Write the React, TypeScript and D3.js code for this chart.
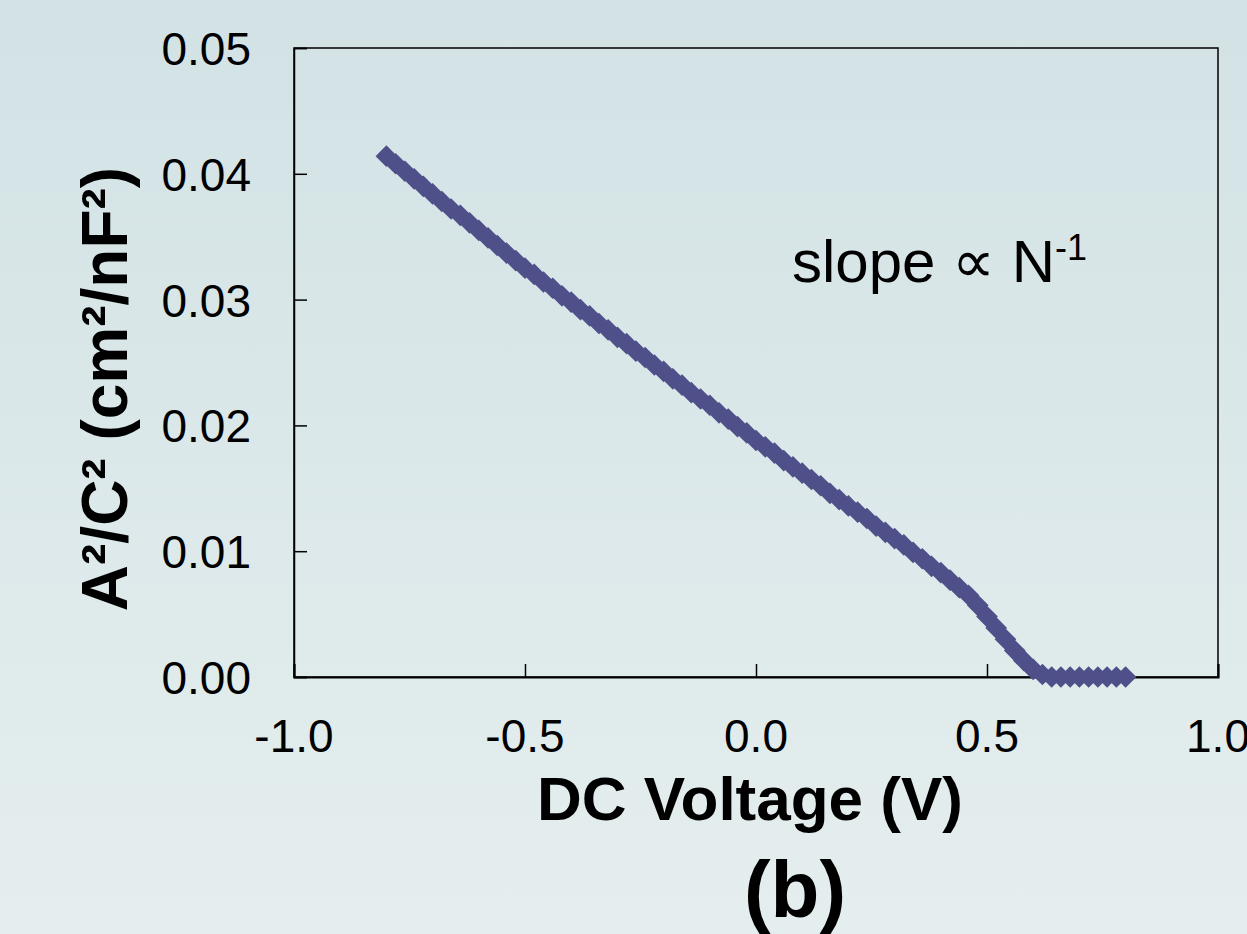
import React, { useEffect, useRef } from "react";
import * as d3 from "d3";

// DC bias sweep (V) and measured A^2/C^2 (cm^2/nF^2)
const voltages: number[] = [
  -0.8, -0.78, -0.76, -0.74, -0.72, -0.7, -0.68, -0.66, -0.64, -0.62,
  -0.6, -0.58, -0.56, -0.54, -0.52, -0.5, -0.48, -0.46, -0.44, -0.42,
  -0.4, -0.38, -0.36, -0.34, -0.32, -0.3, -0.28, -0.26, -0.24, -0.22,
  -0.2, -0.18, -0.16, -0.14, -0.12, -0.1, -0.08, -0.06, -0.04, -0.02,
  0.0, 0.02, 0.04, 0.06, 0.08, 0.1, 0.12, 0.14, 0.16, 0.18,
  0.2, 0.22, 0.24, 0.26, 0.28, 0.3, 0.32, 0.34, 0.36, 0.38,
  0.4, 0.42, 0.44, 0.46, 0.48, 0.5, 0.52, 0.54, 0.56, 0.58,
  0.6, 0.62, 0.64, 0.66, 0.68, 0.7, 0.72, 0.74, 0.76, 0.78, 0.8,
];

const invC2: number[] = [
  0.0414, 0.0408, 0.0402, 0.0396, 0.039, 0.0384, 0.0378, 0.0372, 0.0367, 0.0361,
  0.0355, 0.0349, 0.0343, 0.0337, 0.0331, 0.0325, 0.032, 0.0314, 0.0309, 0.0303,
  0.0298, 0.0292, 0.0287, 0.0281, 0.0276, 0.027, 0.0265, 0.0259, 0.0254, 0.0248,
  0.0243, 0.0237, 0.0232, 0.0226, 0.0221, 0.0216, 0.021, 0.0205, 0.0199, 0.0194,
  0.0188, 0.0183, 0.0178, 0.0172, 0.0167, 0.0162, 0.0157, 0.0152, 0.0146, 0.0141,
  0.0136, 0.0131, 0.0126, 0.012, 0.0115, 0.011, 0.0105, 0.0099, 0.0094, 0.0088,
  0.0083, 0.0077, 0.0071, 0.0065, 0.0057, 0.0048, 0.0039, 0.0030, 0.0021, 0.0013,
  0.0006, 0.0002, 0.0, 0.0, 0.0, 0.0, 0.0, 0.0, 0.0, 0.0, 0.0,
];

const xTicks: number[] = [-1.0, -0.5, 0.0, 0.5, 1.0];
const yTicks: number[] = [0.0, 0.01, 0.02, 0.03, 0.04, 0.05];

const W = 1247;
const H = 934;
const FONT = "'Liberation Sans', Arial, Helvetica, sans-serif";

const App = () => {
  const svgRef = useRef<SVGSVGElement>(null);

  useEffect(() => {
    document.body.style.margin = "0";
    const svg = d3.select(svgRef.current);
    svg.selectAll("*").remove();

    const left = 294;
    const right = 1218;
    const top = 48;
    const bottom = 677;

    const x = d3.scaleLinear().domain([-1, 1]).range([left, right]);
    const y = d3.scaleLinear().domain([0, 0.05]).range([bottom, top]);

    // background gradient
    const grad = svg
      .append("defs")
      .append("linearGradient")
      .attr("id", "bg")
      .attr("x1", 0)
      .attr("y1", 0)
      .attr("x2", 0)
      .attr("y2", 1);
    grad.append("stop").attr("offset", "0%").attr("stop-color", "#d2e2e5");
    grad.append("stop").attr("offset", "100%").attr("stop-color", "#e5eeee");
    svg.append("rect").attr("width", W).attr("height", H).attr("fill", "url(#bg)");

    // plot frame
    svg
      .append("rect")
      .attr("x", left)
      .attr("y", top)
      .attr("width", right - left)
      .attr("height", bottom - top)
      .attr("fill", "none")
      .attr("stroke", "#000")
      .attr("stroke-width", 1.5);

    // x axis (ticks inside)
    const xAxis = svg
      .append("g")
      .attr("transform", `translate(0,${bottom})`)
      .call(
        d3
          .axisBottom(x)
          .tickValues(xTicks)
          .tickSize(-13)
          .tickPadding(0)
          .tickFormat(() => "")
      );
    xAxis.select(".domain").attr("stroke-width", 2);
    xAxis.selectAll(".tick line").attr("stroke-width", 1.5);

    const fmt1 = (d: number) => d3.format(".1f")(d).replace("\u2212", "-");
    const fmt2 = (d: number) => d3.format(".2f")(d).replace("\u2212", "-");

    svg
      .append("g")
      .selectAll("text")
      .data(xTicks)
      .enter()
      .append("text")
      .attr("x", (d) => x(d))
      .attr("y", 752)
      .attr("text-anchor", "middle")
      .attr("font-family", FONT)
      .attr("font-size", 46)
      .text((d) => fmt1(d));

    // y axis (ticks inside)
    const yAxis = svg
      .append("g")
      .attr("transform", `translate(${left},0)`)
      .call(
        d3
          .axisLeft(y)
          .tickValues(yTicks)
          .tickSize(-13)
          .tickFormat(() => "")
      );
    yAxis.select(".domain").attr("stroke-width", 1.5);
    yAxis.selectAll(".tick line").attr("stroke-width", 1.5);

    svg
      .append("g")
      .selectAll("text")
      .data(yTicks)
      .enter()
      .append("text")
      .attr("x", 251)
      .attr("y", (d) => y(d) + 17)
      .attr("text-anchor", "end")
      .attr("font-family", FONT)
      .attr("font-size", 46)
      .text((d) => fmt2(d));

    // data markers (diamonds)
    const diamond = d3.symbol().type(d3.symbolSquare).size(235)();
    svg
      .append("g")
      .selectAll("path")
      .data(voltages.map((v, i) => [v, invC2[i]]))
      .enter()
      .append("path")
      .attr("d", diamond)
      .attr("transform", (d) => `translate(${x(d[0])},${y(d[1])}) rotate(45)`)
      .attr("fill", "#4f5089");

    // axis titles
    svg
      .append("text")
      .attr("x", 750)
      .attr("y", 820)
      .attr("text-anchor", "middle")
      .attr("font-family", FONT)
      .attr("font-weight", "bold")
      .attr("font-size", 62)
      .text("DC Voltage (V)");

    svg
      .append("text")
      .attr("transform", `translate(127,389) rotate(-90)`)
      .attr("text-anchor", "middle")
      .attr("font-family", FONT)
      .attr("font-weight", "bold")
      .attr("font-size", 64)
      .text("A²/C² (cm²/nF²)");

    svg
      .append("text")
      .attr("x", 795)
      .attr("y", 917)
      .attr("text-anchor", "middle")
      .attr("font-family", FONT)
      .attr("font-weight", "bold")
      .attr("font-size", 80)
      .text("(b)");

    // annotation
    const ann = svg
      .append("text")
      .attr("x", 792)
      .attr("y", 282)
      .attr("font-family", FONT)
      .attr("font-size", 60);
    ann.append("tspan").text("slope \u221D N");
    ann.append("tspan").attr("font-size", 36).attr("dy", -22).text("-1");
  }, []);

  return (
    <svg
      ref={svgRef}
      width={W}
      height={H}
      style={{ position: "absolute", left: 0, top: 0, display: "block" }}
    />
  );
};

export default App;
